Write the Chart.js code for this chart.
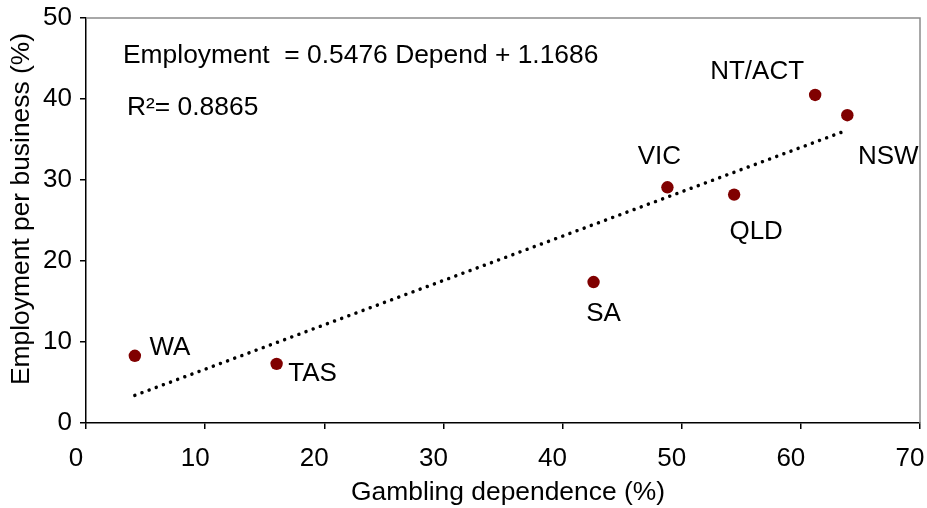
<!DOCTYPE html>
<html>
<head>
<meta charset="utf-8">
<script src="https://cdn.jsdelivr.net/npm/chart.js@4/dist/chart.umd.min.js"></script>
<style>
  html, body { margin: 0; padding: 0; background: #fff; }
  #wrap { width: 927px; height: 508px; }
</style>
</head>
<body>
<div id="wrap"><canvas id="c" width="927" height="508"></canvas></div>
<script>
// States and their gambling dependence vs employment per business
const states = ['WA', 'TAS', 'SA', 'VIC', 'QLD', 'NT/ACT', 'NSW'];
const dependence = [4.1, 16.0, 42.6, 48.8, 54.4, 61.2, 63.9];
const employment = [8.3, 7.3, 17.4, 29.1, 28.2, 40.5, 38.0];

// Fitted linear trend: Employment = slope * Depend + intercept
const slope = 0.5476;
const intercept = 1.1686;
const rSquared = 0.8865;

const xTickValues = [0, 10, 20, 30, 40, 50, 60, 70];
const yTickValues = [0, 10, 20, 30, 40, 50];

const xTitle = 'Gambling dependence (%)';
const yTitle = 'Employment per business (%)';

const FONT = "'Liberation Sans', Arial, sans-serif";
const FONT_SIZE = 26;

// Label placement around each point (pixels from the marker centre)
const labelOffsets = {
  'WA':     { dx: 35,  dy: -8 },
  'TAS':    { dx: 36,  dy: 10 },
  'SA':     { dx: 10,  dy: 32 },
  'VIC':    { dx: -8,  dy: -30 },
  'QLD':    { dx: 22,  dy: 37 },
  'NT/ACT': { dx: -58, dy: -23 },
  'NSW':    { dx: 41,  dy: 42 }
};

const points = states.map((s, i) => ({ x: dependence[i], y: employment[i] }));
const xMin = Math.min(...dependence);
const xMax = Math.max(...dependence);
const trend = [xMin, xMax].map(x => ({ x: x, y: slope * x + intercept }));

const pointLabels = {
  id: 'pointLabels',
  afterDatasetsDraw(chart) {
    const ctx = chart.ctx;
    const meta = chart.getDatasetMeta(1);
    ctx.save();
    ctx.font = FONT_SIZE + 'px ' + FONT;
    ctx.fillStyle = '#000';
    ctx.textAlign = 'center';
    ctx.textBaseline = 'middle';
    meta.data.forEach((el, i) => {
      const off = labelOffsets[states[i]];
      ctx.fillText(states[i], el.x + off.dx, el.y + off.dy);
    });
    ctx.restore();
  }
};

const frameAndText = {
  id: 'frameAndText',
  afterDraw(chart) {
    const { ctx, chartArea: a } = chart;
    ctx.save();
    // grey top and right edges of the plot frame
    ctx.strokeStyle = '#8c8c8c';
    ctx.lineWidth = 1.5;
    ctx.beginPath();
    ctx.moveTo(a.left, a.top);
    ctx.lineTo(a.right, a.top);
    ctx.lineTo(a.right, a.bottom);
    ctx.stroke();

    ctx.fillStyle = '#000';
    ctx.textBaseline = 'middle';

    // regression equation
    ctx.font = '26.4px ' + FONT;
    ctx.textAlign = 'left';
    ctx.fillText('Employment  = ' + slope.toFixed(4) + ' Depend + ' + intercept.toFixed(4), a.left + 37, a.top + 38);
    ctx.fillText('R\u00B2= ' + rSquared.toFixed(4), a.left + 41, a.top + 90);

    // axis titles
    ctx.textAlign = 'center';
    ctx.fillText(xTitle, 508, 493);
    ctx.translate(22, 209);
    ctx.rotate(-Math.PI / 2);
    ctx.fillText(yTitle, 0, 0);
    ctx.restore();
  }
};

new Chart(document.getElementById('c'), {
  type: 'scatter',
  data: {
    datasets: [
      {
        type: 'line',
        data: trend,
        borderColor: '#000',
        borderWidth: 3.5,
        borderDash: [0.01, 7.6],
        borderCapStyle: 'round',
        pointRadius: 0,
        fill: false,
        order: 2
      },
      {
        data: points,
        backgroundColor: '#800000',
        borderWidth: 0,
        pointRadius: 6.2,
        order: 1
      }
    ]
  },
  options: {
    responsive: false,
    animation: false,
    events: [],
    layout: { padding: { top: 18, right: 7, left: 0, bottom: 0 } },
    plugins: { legend: { display: false }, tooltip: { enabled: false } },
    scales: {
      x: {
        type: 'linear',
        min: 0, max: 70,
        afterBuildTicks(s) { s.ticks = xTickValues.map(v => ({ value: v })); },
        afterFit(s) { s.height = 85; s.paddingLeft = 0; s.paddingRight = 0; },
        grid: { display: true, drawOnChartArea: false, drawTicks: true, tickLength: 6, color: '#000', lineWidth: 1.5 },
        border: { display: true, color: '#000', width: 1.5 },
        ticks: { color: '#000', font: { family: FONT, size: FONT_SIZE }, padding: 14, labelOffset: -10, maxRotation: 0 },
        title: { display: false }
      },
      y: {
        type: 'linear',
        min: 0, max: 50,
        afterBuildTicks(s) { s.ticks = yTickValues.map(v => ({ value: v })); },
        afterFit(s) { s.width = 86; s.paddingTop = 0; s.paddingBottom = 0; },
        grid: { display: true, drawOnChartArea: false, drawTicks: true, tickLength: 6, color: '#000', lineWidth: 1.5 },
        border: { display: true, color: '#000', width: 1.5 },
        ticks: { color: '#000', font: { family: FONT, size: FONT_SIZE }, padding: 8 },
        title: { display: false }
      }
    }
  },
  plugins: [pointLabels, frameAndText]
});
</script>
</body>
</html>
